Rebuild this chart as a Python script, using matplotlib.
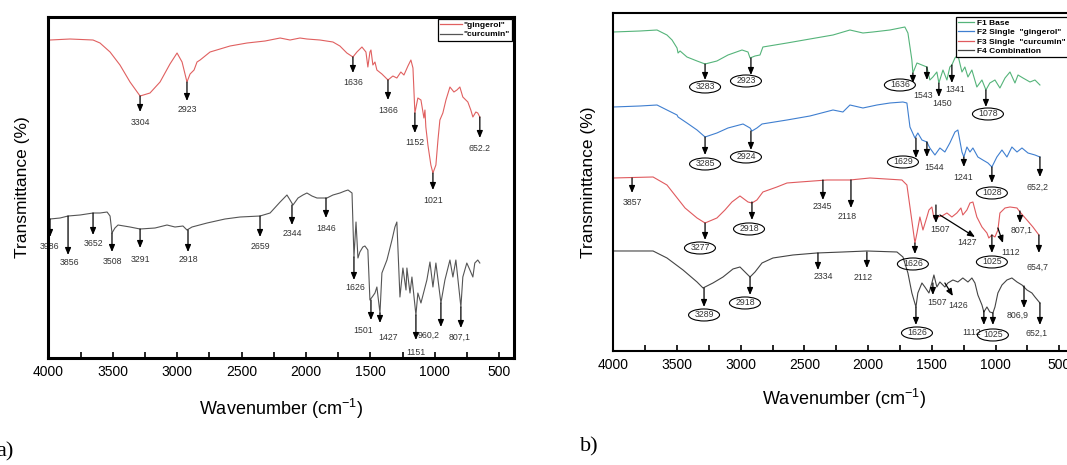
import matplotlib
matplotlib.use('Agg')
import matplotlib.pyplot as plt
from matplotlib.patches import Ellipse
from matplotlib.lines import Line2D
from matplotlib.ticker import MultipleLocator

plt.rcParams['font.family'] = ['Liberation Sans', 'DejaVu Sans']
plt.rcParams['mathtext.fontset'] = 'custom'
plt.rcParams['mathtext.rm'] = 'Liberation Sans'

# ---------------- panel a data ----------------
a_ging_wn = [3987, 3832, 3653, 3599, 3521, 3444, 3366, 3288, 3211, 3133, 3056, 3001, 2962, 2924,
             2900, 2869, 2846, 2822, 2745, 2590, 2458, 2318, 2201, 2124, 2047, 1993, 1892, 1791,
             1737, 1683, 1636, 1605, 1566, 1535, 1520, 1504, 1496, 1481, 1465, 1450, 1411, 1364,
             1326, 1295, 1264, 1240, 1209, 1186, 1170, 1155, 1132, 1108, 1085, 1077, 1070, 1054,
             1031, 1015, 992, 976, 961, 938, 914, 883, 852, 829, 806, 783, 744, 721, 705, 682, 667, 651]
a_ging_T = [318, 319, 318, 315, 306, 293, 276, 262, 265, 276, 294, 305, 296, 276,
            284, 288, 296, 298, 306, 312, 315, 317, 320, 318, 320, 319, 318, 316,
            312, 305, 301, 306, 311, 306, 291, 306, 308, 293, 296, 288, 284, 278,
            282, 280, 286, 283, 292, 298, 290, 245, 260, 258, 240, 248, 231, 213,
            193, 185, 193, 218, 238, 245, 258, 271, 266, 268, 271, 261, 256, 248, 241, 246, 245, 241]

a_curc_wn = [3987, 3909, 3847, 3754, 3653, 3599, 3544, 3521, 3506, 3483, 3459, 3366, 3288, 3172,
             3079, 3017, 2955, 2924, 2885, 2768, 2629, 2512, 2357, 2279, 2201, 2148, 2124, 2101,
             2062, 2024, 1993, 1954, 1915, 1838, 1791, 1737, 1698, 1674, 1643, 1628, 1612, 1597,
             1582, 1559, 1543, 1520, 1504, 1481, 1465, 1450, 1426, 1411, 1372, 1333, 1310, 1295,
             1271, 1248, 1224, 1217, 1193, 1178, 1147, 1132, 1108, 1062, 1038, 1015, 992, 953,
             922, 883, 860, 837, 798, 783, 752, 728, 705, 690, 667, 651]
a_curc_T = [139, 140, 142, 143, 145, 145, 146, 142, 125, 130, 133, 131, 129, 130,
            133, 131, 132, 128, 131, 135, 139, 141, 142, 145, 156, 163, 158, 153,
            160, 163, 165, 162, 160, 160, 163, 165, 167, 168, 165, 101, 136, 100,
            106, 111, 112, 108, 58, 62, 65, 71, 45, 85, 98, 118, 131, 136,
            61, 90, 68, 90, 65, 81, 43, 65, 55, 78, 96, 71, 95, 55,
            78, 98, 81, 98, 51, 81, 95, 88, 81, 95, 98, 95]

# (label, x_from, T_from, x_to, T_to, text_x, text_T)
a_ging_peaks = [
    ("3304", 3288, 262, 3288, 246, 3288, 236),
    ("2923", 2924, 276, 2924, 257, 2924, 249),
    ("1636", 1636, 301, 1636, 285, 1636, 276),
    ("1366", 1364, 278, 1364, 258, 1364, 248),
    ("1152", 1155, 245, 1155, 225, 1155, 216),
    ("1021", 1015, 185, 1015, 168, 1015, 158),
    ("652.2", 651, 241, 651, 220, 651, 210),
]
a_curc_peaks = [
    ("3986", 3987, 139, 3987, 121, 3990, 112),
    ("3856", 3847, 142, 3847, 103, 3832, 96),
    ("3652", 3653, 145, 3653, 123, 3653, 115),
    ("3508", 3506, 125, 3506, 106, 3506, 97),
    ("3291", 3288, 129, 3288, 110, 3288, 99),
    ("2918", 2916, 128, 2916, 106, 2916, 99),
    ("2659", 2357, 142, 2357, 121, 2357, 112),
    ("2344", 2109, 153, 2109, 133, 2109, 125),
    ("1846", 1845, 160, 1845, 140, 1845, 130),
    ("1626", 1628, 101, 1628, 78, 1620, 71),
    ("1501", 1496, 58, 1496, 38, 1558, 28),
    ("1427", 1426, 45, 1426, 35, 1364, 21),
    ("1151", 1147, 43, 1147, 18, 1147, 6),
    ("960,2", 953, 55, 953, 31, 1046, 23),
    ("807,1", 798, 51, 798, 30, 806, 21),
]

# ---------------- panel b data ----------------
b_f1_wn = [4000, 3790, 3657, 3579, 3539, 3500, 3492, 3476, 3422, 3343, 3280, 3187, 3100, 2990,
           2943, 2927, 2888, 2849, 2826, 2637, 2457, 2276, 2143, 2041, 1963, 1829, 1712, 1688,
           1657, 1649, 1617, 1578, 1539, 1516, 1492, 1461, 1445, 1413, 1382, 1359, 1343, 1319,
           1296, 1264, 1241, 1217, 1186, 1147, 1107, 1076, 1045, 1005, 966, 926, 887, 848, 824,
           785, 730, 691, 652]
b_f1_T = [319, 320, 321, 316, 311, 303, 298, 300, 294, 290, 287, 290, 296, 301,
          299, 293, 295, 296, 304, 308, 312, 316, 321, 318, 319, 321, 324, 318,
          291, 278, 288, 286, 284, 271, 274, 279, 268, 281, 271, 284, 286, 293,
          296, 279, 284, 274, 281, 264, 271, 261, 268, 271, 263, 273, 279, 268, 276,
          273, 269, 271, 266]

b_f2_wn = [4000, 3790, 3657, 3579, 3500, 3492, 3422, 3343, 3280, 3187, 3100, 2982, 2927, 2912,
           2873, 2833, 2637, 2457, 2276, 2198, 2143, 2041, 1931, 1829, 1727, 1696, 1672, 1633,
           1610, 1578, 1539, 1516, 1476, 1437, 1398, 1359, 1319, 1296, 1264, 1249, 1225, 1201,
           1178, 1139, 1100, 1060, 1029, 990, 950, 911, 872, 832, 793, 746, 691, 652]
b_f2_T = [244, 245, 246, 241, 236, 234, 228, 221, 214, 218, 223, 227, 223, 220,
          223, 227, 231, 235, 241, 239, 246, 243, 246, 248, 249, 248, 224, 213,
          218, 211, 209, 203, 196, 203, 199, 208, 219, 221, 199, 194, 204, 199,
          203, 194, 191, 188, 184, 194, 201, 194, 204, 199, 203, 198, 196, 194]

b_f3_wn = [4000, 3688, 3579, 3437, 3343, 3280, 3187, 3124, 3069, 3006, 2943, 2912, 2873, 2826,
           2716, 2637, 2535, 2323, 2143, 1986, 1735, 1696, 1672, 1633, 1617, 1594, 1570, 1539,
           1523, 1500, 1484, 1461, 1421, 1382, 1343, 1304, 1272, 1257, 1225, 1201, 1178, 1147,
           1107, 1068, 1053, 1029, 1005, 982, 966, 926, 887, 832, 809, 754, 707, 660]
b_f3_T = [173, 174, 166, 143, 133, 128, 133, 141, 149, 155, 149, 148, 151, 159,
          164, 168, 169, 171, 171, 173, 171, 166, 144, 108, 118, 134, 121, 134,
          141, 144, 133, 134, 135, 138, 134, 138, 143, 136, 141, 148, 149, 134,
          124, 118, 113, 116, 114, 121, 138, 143, 144, 143, 139, 131, 124, 116]

b_f4_wn = [4000, 3688, 3579, 3453, 3343, 3296, 3218, 3139, 3061, 3006, 2943, 2927, 2888, 2833,
           2747, 2590, 2402, 2198, 2010, 1774, 1727, 1688, 1657, 1625, 1610, 1578, 1555, 1523,
           1500, 1484, 1461, 1437, 1398, 1374, 1335, 1296, 1257, 1217, 1186, 1162, 1139, 1107,
           1092, 1068, 1045, 1021, 1005, 982, 950, 911, 872, 832, 793, 754, 715, 691, 652]
b_f4_T = [100, 100, 93, 81, 69, 63, 68, 74, 82, 84, 76, 74, 79, 88,
          93, 96, 98, 99, 100, 99, 94, 78, 58, 44, 58, 68, 64, 58,
          68, 76, 64, 69, 64, 68, 71, 69, 73, 69, 73, 68, 56, 46,
          39, 44, 39, 38, 44, 58, 66, 71, 73, 69, 66, 61, 58, 54, 48]

# (label, x_from, T_from, x_to, T_to, text_x, text_T, circled)
b_f1_peaks = [
    ("3283", 3280, 287, 3280, 271, 3280, 264, True),
    ("2923", 2920, 293, 2920, 276, 2959, 270, True),
    ("1636", 1649, 278, 1649, 268, 1751, 266, True),
    ("1543", 1539, 284, 1539, 271, 1570, 255, False),
    ("1450", 1445, 268, 1445, 254, 1421, 247, False),
    ("1341", 1343, 286, 1343, 268, 1319, 261, False),
    ("1078", 1076, 261, 1076, 244, 1060, 237, True),
]
b_f2_peaks = [
    ("3285", 3280, 214, 3280, 196, 3280, 187, True),
    ("2924", 2920, 220, 2920, 201, 2959, 194, True),
    ("1629", 1625, 213, 1625, 193, 1727, 189, True),
    ("1544", 1539, 209, 1539, 194, 1484, 183, False),
    ("1241", 1249, 194, 1249, 184, 1257, 173, False),
    ("1028", 1029, 184, 1029, 168, 1029, 158, True),
    ("652,2", 652, 194, 652, 174, 668, 164, False),
]
b_f3_peaks = [
    ("3857", 3853, 173, 3853, 158, 3853, 148, False),
    ("3277", 3280, 128, 3280, 111, 3320, 103, True),
    ("2918", 2912, 149, 2912, 131, 2935, 122, True),
    ("2345", 2355, 171, 2355, 151, 2362, 144, False),
    ("2118", 2135, 171, 2135, 143, 2166, 134, False),
    ("1626", 1633, 108, 1633, 97, 1649, 87, True),
    ("1507", 1468, 146, 1468, 128, 1437, 121, False),
    ("1427", 1437, 136, 1162, 114, 1225, 108, False),
    ("1025", 1029, 116, 1029, 98, 1029, 89, True),
    ("1112", 982, 123, 942, 108, 880, 98, False),
    ("807,1", 809, 140, 809, 128, 793, 121, False),
    ("654,7", 660, 116, 660, 98, 675, 84, False),
]
b_f4_peaks = [
    ("3289", 3288, 63, 3288, 44, 3288, 36, True),
    ("2918", 2927, 74, 2927, 56, 2967, 48, True),
    ("2334", 2394, 98, 2394, 81, 2355, 74, False),
    ("2112", 2010, 99, 2010, 83, 2041, 73, False),
    ("1626", 1625, 44, 1625, 26, 1617, 18, True),
    ("1507", 1492, 68, 1492, 56, 1461, 48, False),
    ("1426", 1398, 68, 1335, 55, 1290, 45, False),
    ("1112", 1092, 40, 1092, 26, 1186, 18, False),
    ("1025", 1021, 38, 1021, 26, 1021, 16, True),
    ("806,9", 777, 65, 777, 43, 824, 36, False),
    ("652,1", 652, 48, 652, 26, 675, 18, False),
]

a_labels = ['"gingerol"', '"curcumin"']
b_labels = ['F1 Base', 'F2 Single  "gingerol"', 'F3 Single  "curcumin"', 'F4 Combination']
x_ticks = [4000, 3500, 3000, 2500, 2000, 1500, 1000, 500]

C_RED_A = '#e06060'
C_GREY_A = '#555555'
C_GREEN = '#55b47a'
C_BLUE = '#3f7fd0'
C_RED = '#e05a5e'
C_BLACK = '#444444'

fig = plt.figure(figsize=(10.67, 4.65), dpi=100)
axa = fig.add_axes([0.0453, 0.2301, 0.4364, 0.7344])
axb = fig.add_axes([0.5748, 0.2452, 0.4316, 0.7262])


def arrows(ax, items, fs=6.3, ell=None):
    for it in items:
        lab, x0, y0, x1, y1, tx, ty = it[:7]
        circ = it[7] if len(it) > 7 else False
        ax.annotate('', xy=(x1, y1), xytext=(x0, y0),
                    arrowprops=dict(arrowstyle='-|>,head_length=0.6,head_width=0.25',
                                    color='black', lw=0.9, mutation_scale=7,
                                    shrinkA=0, shrinkB=0), zorder=4)
        ax.text(tx, ty, lab, fontsize=fs, ha='center', va='center', color='#333333',
                zorder=2, clip_on=False)
        if circ and ell is not None:
            ax.add_patch(Ellipse((tx, ty), ell[0], ell[1], fill=False, ec='black', lw=0.8,
                                 zorder=4))


def style(ax, lw, ylabel, ytop):
    ax.set_xlim(4000, 386)
    ax.set_ylim(0, ytop)
    ax.set_xticks(x_ticks)
    ax.xaxis.set_minor_locator(MultipleLocator(250))
    ax.set_yticks([])
    ax.tick_params(axis='x', which='both', direction='in', length=4, width=1.2,
                   labelsize=10, pad=5, top=False)
    for s in ax.spines.values():
        s.set_linewidth(lw)
        s.set_zorder(5)
    ax.set_xlabel(r'Wavenumber (cm$^{\mathregular{-1}}$)', fontsize=13)
    ax.set_ylabel(ylabel, fontsize=12.5)


# panel a
axa.plot(a_ging_wn, a_ging_T, color=C_RED_A, lw=0.8)
axa.plot(a_curc_wn, a_curc_T, color=C_GREY_A, lw=0.8)
arrows(axa, a_ging_peaks)
arrows(axa, a_curc_peaks)
style(axa, 2.2, 'Transmittance (%)', 341.5)
axa.xaxis.set_label_coords(0.5, -0.115)
axa.yaxis.set_label_coords(-0.04, 0.5)
hA = [Line2D([], [], color=C_RED_A, lw=0.9), Line2D([], [], color=C_GREY_A, lw=0.9)]
lg = axa.legend(hA, a_labels, loc='upper right', prop={'weight': 'bold', 'size': 6},
                frameon=True, fancybox=False, edgecolor='black', framealpha=1,
                handlelength=2.6, handletextpad=0.2, borderpad=0.25, labelspacing=0.25,
                borderaxespad=0.25)
lg.get_frame().set_linewidth(0.9)

# panel b
axb.plot(b_f1_wn, b_f1_T, color=C_GREEN, lw=0.8)
axb.plot(b_f2_wn, b_f2_T, color=C_BLUE, lw=0.8)
axb.plot(b_f3_wn, b_f3_T, color=C_RED, lw=0.8)
axb.plot(b_f4_wn, b_f4_T, color=C_BLACK, lw=0.8)
ell = (243, 12)
for p in (b_f1_peaks, b_f2_peaks, b_f3_peaks, b_f4_peaks):
    arrows(axb, p, ell=ell)
style(axb, 1.5, 'Transminttance (%)', 337.7)
axb.xaxis.set_label_coords(0.5, -0.105)
axb.yaxis.set_label_coords(-0.038, 0.5)
hB = [Line2D([], [], color=c, lw=0.9) for c in (C_GREEN, C_BLUE, C_RED, C_BLACK)]
lg2 = axb.legend(hB, b_labels, loc='upper right', bbox_to_anchor=(0.992, 0.997),
                 prop={'weight': 'bold', 'size': 6},
                 frameon=True, fancybox=False, edgecolor='black', framealpha=1,
                 handlelength=2.0, handletextpad=0.3, borderpad=0.25, labelspacing=0.2,
                 borderaxespad=0.3)
lg2.get_frame().set_linewidth(0.9)

fig.text(14 / 1067, 1 - 452 / 465, 'a)', ha='right', va='center', fontsize=16,
         family='Liberation Serif')
fig.text(580 / 1067, 1 - 447 / 465, 'b)', ha='left', va='center', fontsize=16,
         family='Liberation Serif')

fig.savefig('out.png', dpi=100)
